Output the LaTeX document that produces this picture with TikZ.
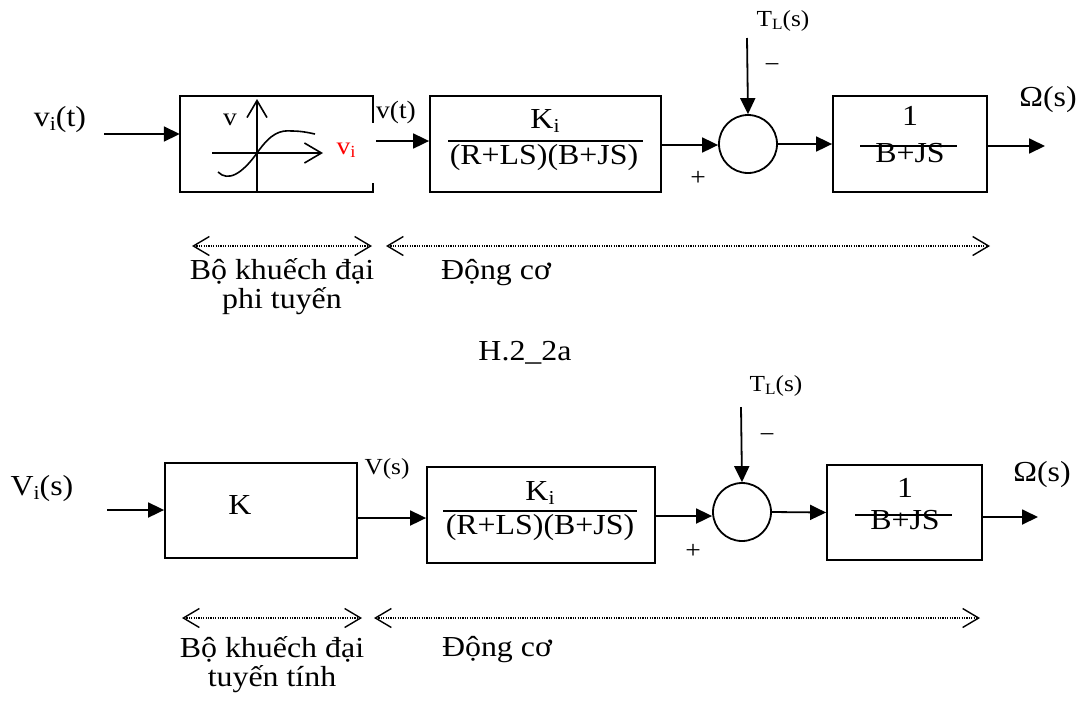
\documentclass[tikz,border=0pt]{standalone}
\usepackage{fontspec}
\setmainfont{Liberation Serif}[FakeStretch=1.1]
\usepackage{graphicx}
\usetikzlibrary{arrows.meta}
\newcommand{\sbs}[1]{\raisebox{-0.25ex}{\scalebox{0.68}{#1}}}
\begin{document}
\begin{tikzpicture}[x=1pt,y=-1pt,
  big/.style={font=\fontsize{29}{29}\selectfont, inner sep=0pt, align=center},
  mid/.style={font=\fontsize{25}{28}\selectfont, inner sep=0pt},
  sml/.style={font=\fontsize{23}{26}\selectfont, inner sep=0pt},
  blk/.style={draw, line width=1.8pt, inner sep=0pt},
  sum/.style={draw, circle, line width=1.8pt, minimum size=58pt, inner sep=0pt},
  arr/.style={line width=1.8pt, -{Triangle[length=16pt,width=15pt]}},
  span/.style={line width=1.2pt, dash pattern=on 1.2pt off 1.2pt,
     {Straight Barb[length=16pt,width=19pt,line width=1.4pt]}-{Straight Barb[length=16pt,width=19pt,line width=1.4pt]}},
  barb/.style={line width=1.6pt, -{Straight Barb[length=17pt,width=20pt,line width=1.6pt]}},
  fbar/.style={line width=1.8pt}
]
\useasboundingbox (0,0) rectangle (1083,713);

% ================= TOP ROW =================
\node[big] (vit) at (60,120) {v\sbs{i}(t)};
\node[inner sep=0pt, minimum width=193pt, minimum height=96pt] (b1) at (276.5,144) {};
\draw[line width=1.8pt] ([yshift=-27pt]b1.north east) -- (b1.north east) -- (b1.north west)
   -- (b1.south west) -- (b1.south east) -- ([yshift=9pt]b1.south east);
% nonlinear characteristic
\draw[barb] (257,192) -- (257,99);
\draw[barb] (212,153) -- (323,153);
\draw[line width=1.6pt] (218,172) .. controls (228,182) and (242,174) .. (257,153)
   .. controls (271,133) and (280,130) .. (292,131) .. controls (302,131) and (310,133) .. (315,134);
\node[mid] (vax) at (230,120) {v};
\node[mid, text=red] (viax) at (346,150) {v\sbs{i}};
\node[mid] (vt) at (396,112) {v(t)};

\node[blk, minimum width=231pt, minimum height=96pt] (b2) at (545.5,144) {};
\node[big] (ki1) at (545,121) {K\sbs{i}};
\draw[fbar] (448,141) -- (643,141);
\node[big] (den1) at (544,158) {(R+LS)(B+JS)};

\node[sum] (s1) at (748,144) {};
\node[mid] (p1) at (698,178) {+};
\node[sml] (tl1) at (783,21) {T\sbs{L}(s)};
\node[mid] (m1) at (772,68) {−};

\node[blk, minimum width=154pt, minimum height=96pt] (b3) at (910,144) {};
\node[big] (one1) at (910,116) {1};
\node[big] (bj1) at (910,153) {B+JS};
\draw[line width=1.5pt] (860,146) -- (957,146);
\node[big] (om1) at (1048,100) {Ω(s)};

\coordinate (in1) at (104,134);
\coordinate (tt1) at (747,38);
\coordinate (out1) at (1045,146);
\draw[arr] (in1) -- (in1 -| b1.west);
\draw[arr] ([yshift=3pt,xshift=3pt]b1.east) -- ([yshift=3pt]b2.west);
\draw[arr] ([yshift=-1pt]b2.east) -- ([yshift=-1pt]s1.west);
\draw[arr] (tt1) -- (s1.north);
\draw[arr] (s1.east) -- (b3.west);
\draw[arr] (out1 -| b3.east) -- (out1);

% spans top
\coordinate (a1) at (192,246); \coordinate (a2) at (372,246);
\coordinate (a3) at (386,246); \coordinate (a4) at (990,246);
\draw[span] (a1) -- (a2);
\draw[span] (a3) -- (a4);
\node[big] (lab1) at (282,287) {Bộ khuếch đại\\phi tuyến};
\node[big] (lab2) at (496,273) {Động cơ};
\node[big] (cap) at (525,353) {H.2\_2a};

% ================= BOTTOM ROW =================
\node[big] (vis) at (42,489) {V\sbs{i}(s)};
\node[blk, minimum width=192pt, minimum height=95pt] (c1) at (261,510.5) {};
\node[big] (kk) at (240,505) {K};
\node[sml] (vs) at (387,469) {V(s)};

\node[blk, minimum width=228pt, minimum height=96pt] (c2) at (541,515) {};
\node[big] (ki2) at (540,493) {K\sbs{i}};
\draw[fbar] (443,511) -- (637,511);
\node[big] (den2) at (540,528) {(R+LS)(B+JS)};

\node[sum] (s2) at (742,512) {};
\node[mid] (p2) at (693,551) {+};
\node[sml] (tl2) at (776,386) {T\sbs{L}(s)};
\node[mid] (m2) at (767,438) {−};

\node[blk, minimum width=155pt, minimum height=95pt] (c3) at (904.5,512.5) {};
\node[big] (one2) at (905,488) {1};
\node[big] (bj2) at (905,520) {B+JS};
\draw[line width=1.5pt] (855,515) -- (952,515);
\node[big] (om2) at (1042,475) {Ω(s)};

\coordinate (in2) at (107,510);
\coordinate (tt2) at (741,407);
\coordinate (out2) at (1038,517);
\draw[arr] (in2) -- (in2 -| c1.west);
\draw[arr] ([yshift=-7.5pt]c1.east) -- ([yshift=-3pt]c2.west);
\draw[arr] ([yshift=-1pt]c2.east) -- ([yshift=-4pt]s2.west);
\draw[arr] (tt2) -- (s2.north);
\draw[arr] (s2.east) -- (c3.west);
\draw[arr] (out2 -| c3.east) -- (out2);

% spans bottom
\coordinate (d1) at (182,618); \coordinate (d2) at (362,618);
\coordinate (d3) at (374,618); \coordinate (d4) at (980,618);
\draw[span] (d1) -- (d2);
\draw[span] (d3) -- (d4);
\node[big] (lab3) at (272,665) {Bộ khuếch đại\\tuyến tính};
\node[big] (lab4) at (497,650) {Động cơ};
\end{tikzpicture}
\end{document}
